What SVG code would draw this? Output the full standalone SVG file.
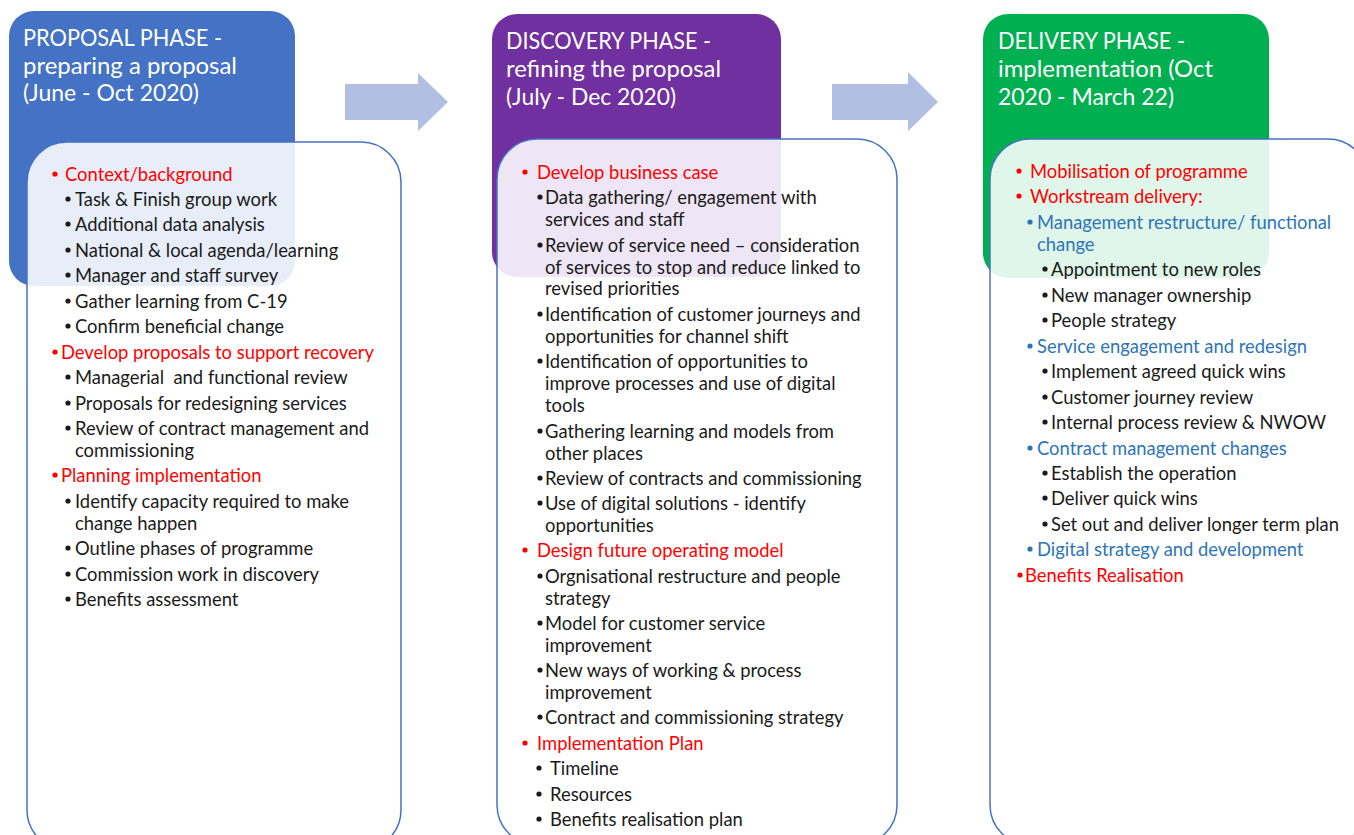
<svg xmlns="http://www.w3.org/2000/svg" width="1354" height="835" viewBox="0 0 1354 835">
  <style>
    .hdr { font-family: Lato, "Liberation Sans", sans-serif; font-size: 23px; fill: #ffffff; }
    .body { font-family: Lato, "Liberation Sans", sans-serif; font-size: 18.4px; }
    .card { fill: #ffffff; fill-opacity: 0.88; stroke: #4472C4; stroke-width: 1.5; }
    .red { fill: #FF0000; }
    .blue { fill: #2E75B6; }
    .blk { fill: #1a1a1a; }
    .arrow { fill: #B0BFE2; }
  </style>

  <rect width="1354" height="835" fill="#ffffff"/>

  <!-- phase headers -->
  <g id="proposal-header">
    <rect x="9" y="11" width="286" height="275" rx="25" fill="#4472C4"/>
  </g>
  <g id="discovery-header">
    <rect x="492" y="14" width="289" height="263" rx="25" fill="#7030A0"/>
  </g>
  <g id="delivery-header">
    <rect x="983" y="14" width="286" height="264" rx="25" fill="#00B050"/>
  </g>

  <!-- arrows between phases -->
  <g id="connectors">
    <polygon class="arrow" points="345,84 418,84 418,73 448,102 418,131 418,120 345,120"/>
    <polygon class="arrow" points="832,84 908,84 908,72 938,102 908,131 908,120 832,120"/>
  </g>

  <!-- PROPOSAL PHASE -->
  <g id="proposal">
    <text class="hdr" x="23" y="46" textLength="199" lengthAdjust="spacingAndGlyphs">PROPOSAL PHASE -</text>
    <text class="hdr" x="23" y="74" textLength="214" lengthAdjust="spacingAndGlyphs">preparing a proposal</text>
    <text class="hdr" x="23" y="101" textLength="176" lengthAdjust="spacingAndGlyphs">(June - Oct 2020)</text>
    <rect class="card" x="27" y="142" width="374" height="708" rx="40"/>
    <g class="body">
      <circle class="red" cx="55" cy="174" r="2.6"/>
      <text class="red" x="65" y="181">Context/background</text>
      <g class="blk">
        <circle cx="68" cy="199" r="2.6"/><text x="75" y="206">Task &amp; Finish group work</text>
        <circle cx="68" cy="224" r="2.6"/><text x="75" y="231">Additional data analysis</text>
        <circle cx="68" cy="250" r="2.6"/><text x="75" y="257">National &amp; local agenda/learning</text>
        <circle cx="68" cy="275" r="2.6"/><text x="75" y="282">Manager and staff survey</text>
        <circle cx="68" cy="301" r="2.6"/><text x="75" y="308">Gather learning from C-19</text>
        <circle cx="68" cy="326" r="2.6"/><text x="75" y="333">Confirm beneficial change</text>
      </g>
      <circle class="red" cx="55" cy="352" r="2.6"/>
      <text class="red" x="61" y="359">Develop proposals to support recovery</text>
      <g class="blk">
        <circle cx="68" cy="377" r="2.6"/><text x="75" y="384" xml:space="preserve">Managerial  and functional review</text>
        <circle cx="68" cy="403" r="2.6"/><text x="75" y="410">Proposals for redesigning services</text>
        <circle cx="68" cy="428" r="2.6"/><text x="75" y="435">Review of contract management and</text>
        <text x="75" y="457">commissioning</text>
      </g>
      <circle class="red" cx="55" cy="475" r="2.6"/>
      <text class="red" x="61" y="482">Planning implementation</text>
      <g class="blk">
        <circle cx="68" cy="501" r="2.6"/><text x="75" y="508">Identify capacity required to make</text>
        <text x="75" y="530">change happen</text>
        <circle cx="68" cy="548" r="2.6"/><text x="75" y="555">Outline phases of programme</text>
        <circle cx="68" cy="574" r="2.6"/><text x="75" y="581">Commission work in discovery</text>
        <circle cx="68" cy="599" r="2.6"/><text x="75" y="606">Benefits assessment</text>
      </g>
    </g>
  </g>

  <!-- DISCOVERY PHASE -->
  <g id="discovery">
    <text class="hdr" x="506" y="49" textLength="205" lengthAdjust="spacingAndGlyphs">DISCOVERY PHASE -</text>
    <text class="hdr" x="506" y="77" textLength="215" lengthAdjust="spacingAndGlyphs">refining the proposal</text>
    <text class="hdr" x="506" y="105" textLength="170" lengthAdjust="spacingAndGlyphs">(July - Dec 2020)</text>
    <rect class="card" x="497" y="139" width="400" height="706" rx="40"/>
    <g class="body">
      <circle class="red" cx="525" cy="172" r="2.6"/>
      <text class="red" x="537" y="179">Develop business case</text>
      <g class="blk">
        <circle cx="540" cy="197" r="2.6"/><text x="545" y="204">Data gathering/ engagement with</text>
        <text x="545" y="226">services and staff</text>
        <circle cx="540" cy="245" r="2.6"/><text x="545" y="252">Review of service need – consideration</text>
        <text x="545" y="274">of services to stop and reduce linked to</text>
        <text x="545" y="295">revised priorities</text>
        <circle cx="540" cy="314" r="2.6"/><text x="545" y="321">Identification of customer journeys and</text>
        <text x="545" y="343">opportunities for channel shift</text>
        <circle cx="540" cy="361" r="2.6"/><text x="545" y="368">Identification of opportunities to</text>
        <text x="545" y="390">improve processes and use of digital</text>
        <text x="545" y="412">tools</text>
        <circle cx="540" cy="431" r="2.6"/><text x="545" y="438">Gathering learning and models from</text>
        <text x="545" y="460">other places</text>
        <circle cx="540" cy="478" r="2.6"/><text x="545" y="485">Review of contracts and commissioning</text>
        <circle cx="540" cy="503" r="2.6"/><text x="545" y="510">Use of digital solutions - identify</text>
        <text x="545" y="532">opportunities</text>
      </g>
      <circle class="red" cx="525" cy="550" r="2.6"/>
      <text class="red" x="537" y="557">Design future operating model</text>
      <g class="blk">
        <circle cx="540" cy="576" r="2.6"/><text x="545" y="583">Orgnisational restructure and people</text>
        <text x="545" y="605">strategy</text>
        <circle cx="540" cy="623" r="2.6"/><text x="545" y="630">Model for customer service</text>
        <text x="545" y="652">improvement</text>
        <circle cx="540" cy="670" r="2.6"/><text x="545" y="677">New ways of working &amp; process</text>
        <text x="545" y="699">improvement</text>
        <circle cx="540" cy="717" r="2.6"/><text x="545" y="724">Contract and commissioning strategy</text>
      </g>
      <circle class="red" cx="525" cy="743" r="2.6"/>
      <text class="red" x="537" y="750">Implementation Plan</text>
      <g class="blk">
        <circle cx="539" cy="768" r="2.6"/><text x="550" y="775">Timeline</text>
        <circle cx="539" cy="794" r="2.6"/><text x="550" y="801">Resources</text>
        <circle cx="539" cy="819" r="2.6"/><text x="550" y="826">Benefits realisation plan</text>
      </g>
    </g>
  </g>

  <!-- DELIVERY PHASE -->
  <g id="delivery">
    <text class="hdr" x="998" y="49" textLength="187" lengthAdjust="spacingAndGlyphs">DELIVERY PHASE -</text>
    <text class="hdr" x="998" y="77" textLength="215" lengthAdjust="spacingAndGlyphs">implementation (Oct</text>
    <text class="hdr" x="998" y="105" textLength="176" lengthAdjust="spacingAndGlyphs">2020 - March 22)</text>
    <rect class="card" x="990" y="139" width="378" height="706" rx="40"/>
    <g class="body">
      <circle class="red" cx="1019" cy="171" r="2.6"/>
      <text class="red" x="1030" y="178">Mobilisation of programme</text>
      <circle class="red" cx="1019" cy="196" r="2.6"/>
      <text class="red" x="1030" y="203">Workstream delivery:</text>
      <circle class="blue" cx="1030" cy="222" r="2.6"/>
      <text class="blue" x="1037" y="229">Management restructure/ functional</text>
      <text class="blue" x="1037" y="251">change</text>
      <g class="blk">
        <circle cx="1045" cy="269" r="2.6"/><text x="1051" y="276">Appointment to new roles</text>
        <circle cx="1045" cy="295" r="2.6"/><text x="1051" y="302">New manager ownership</text>
        <circle cx="1045" cy="320" r="2.6"/><text x="1051" y="327">People strategy</text>
      </g>
      <circle class="blue" cx="1030" cy="346" r="2.6"/>
      <text class="blue" x="1037" y="353">Service engagement and redesign</text>
      <g class="blk">
        <circle cx="1045" cy="371" r="2.6"/><text x="1051" y="378">Implement agreed quick wins</text>
        <circle cx="1045" cy="397" r="2.6"/><text x="1051" y="404">Customer journey review</text>
        <circle cx="1045" cy="422" r="2.6"/><text x="1051" y="429">Internal process review &amp; NWOW</text>
      </g>
      <circle class="blue" cx="1030" cy="448" r="2.6"/>
      <text class="blue" x="1037" y="455">Contract management changes</text>
      <g class="blk">
        <circle cx="1045" cy="473" r="2.6"/><text x="1051" y="480">Establish the operation</text>
        <circle cx="1045" cy="498" r="2.6"/><text x="1051" y="505">Deliver quick wins</text>
        <circle cx="1045" cy="524" r="2.6"/><text x="1051" y="531">Set out and deliver longer term plan</text>
      </g>
      <circle class="blue" cx="1030" cy="549" r="2.6"/>
      <text class="blue" x="1037" y="556">Digital strategy and development</text>
      <circle class="red" cx="1020" cy="575" r="2.6"/>
      <text class="red" x="1025" y="582">Benefits Realisation</text>
    </g>
  </g>
</svg>
